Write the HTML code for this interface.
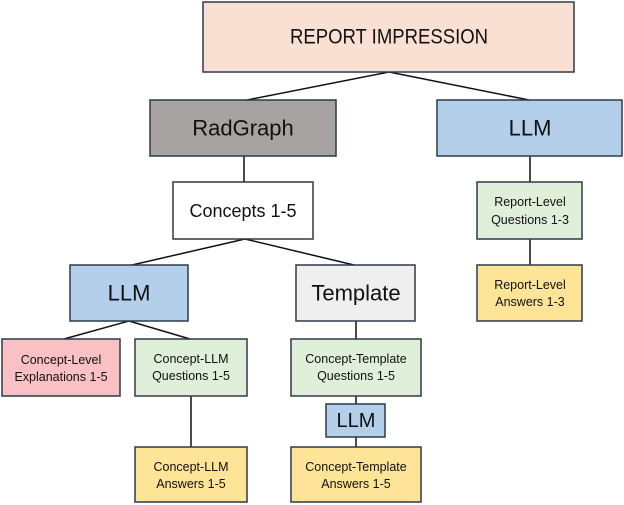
<!DOCTYPE html>
<html><head><meta charset="utf-8"><style>
html,body{margin:0;padding:0;background:#fff;width:624px;height:505px;overflow:hidden}
text{font-family:"Liberation Sans",sans-serif;fill:#111;text-anchor:middle;dominant-baseline:central}
</style></head><body>
<svg width="624" height="505" viewBox="0 0 624 505" xmlns="http://www.w3.org/2000/svg">
<g stroke="#111" stroke-width="1.5" fill="none">
<line x1="389" y1="72" x2="247" y2="100"/><line x1="389" y1="72" x2="529" y2="100"/>
<line x1="244" y1="156" x2="244" y2="182"/><line x1="530" y1="156" x2="530" y2="182"/>
<line x1="245" y1="239" x2="132" y2="265"/><line x1="245" y1="239" x2="354" y2="265"/>
<line x1="530" y1="239" x2="530" y2="265"/>
<line x1="129" y1="321" x2="64" y2="339"/><line x1="129" y1="321" x2="190" y2="339"/>
<line x1="356" y1="321" x2="356" y2="339"/>
<line x1="191" y1="396" x2="191" y2="447"/>
<line x1="356" y1="396" x2="356" y2="404"/><line x1="356" y1="437" x2="356" y2="447"/>
</g>
<g stroke="#2d3a4a" stroke-width="1.5">
<rect x="203" y="2" width="371" height="70" fill="#fae0d2"/>
<rect x="150" y="100" width="186" height="56" fill="#a6a3a2"/>
<rect x="437" y="100" width="185" height="56" fill="#b3cfea"/>
<rect x="173" y="182" width="140" height="57" fill="#fff"/>
<rect x="477" y="182" width="105" height="57" fill="#e0efd9"/>
<rect x="70" y="265" width="118" height="56" fill="#b3cfea"/>
<rect x="296" y="265" width="119" height="56" fill="#efefef"/>
<rect x="477" y="265" width="105" height="56" fill="#fde497"/>
<rect x="2" y="339" width="118" height="57" fill="#f9c1c3"/>
<rect x="135" y="339" width="112" height="57" fill="#e0efd9"/>
<rect x="291" y="339" width="130" height="57" fill="#e0efd9"/>
<rect x="326" y="404" width="59" height="33" fill="#b3cfea"/>
<rect x="135" y="447" width="112" height="55" fill="#fde497"/>
<rect x="291" y="447" width="130" height="55" fill="#fde497"/>
</g>
<text x="389" y="37" font-size="21" textLength="198" lengthAdjust="spacingAndGlyphs">REPORT IMPRESSION</text>
<text x="243" y="128" font-size="22">RadGraph</text>
<text x="530" y="128" font-size="22">LLM</text>
<text x="243" y="211" font-size="18">Concepts 1-5</text>
<text x="530" y="202" font-size="12.5">Report-Level</text>
<text x="530" y="220" font-size="12.5">Questions 1-3</text>
<text x="129" y="293" font-size="22">LLM</text>
<text x="356" y="293" font-size="22">Template</text>
<text x="530" y="285" font-size="12.5">Report-Level</text>
<text x="530" y="302" font-size="12.5">Answers 1-3</text>
<text x="61" y="360" font-size="12.5">Concept-Level</text>
<text x="61" y="377" font-size="12.5">Explanations 1-5</text>
<text x="191" y="359" font-size="12.5">Concept-LLM</text>
<text x="191" y="376" font-size="12.5">Questions 1-5</text>
<text x="356" y="359" font-size="12.5">Concept-Template</text>
<text x="356" y="376" font-size="12.5">Questions 1-5</text>
<text x="356" y="421" font-size="20">LLM</text>
<text x="191" y="467" font-size="12.5">Concept-LLM</text>
<text x="191" y="484" font-size="12.5">Answers 1-5</text>
<text x="356" y="467" font-size="12.5">Concept-Template</text>
<text x="356" y="484" font-size="12.5">Answers 1-5</text>
</svg>
</body></html>
